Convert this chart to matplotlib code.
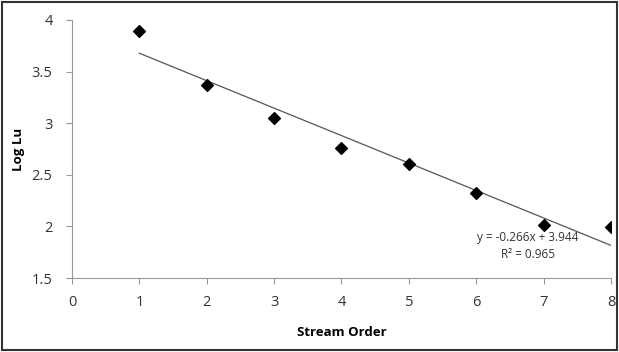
import matplotlib.pyplot as plt
from matplotlib.patches import Rectangle
import numpy as np

plt.rcParams['font.family'] = ['Open Sans', 'DejaVu Sans']

# stream order vs log of mean stream length
order = [1, 2, 3, 4, 5, 6, 7, 8]
log_lu = [3.89, 3.37, 3.05, 2.76, 2.60, 2.32, 2.01, 1.99]

# trendline as printed on the chart
slope = -0.266
intercept = 3.944
r2 = 0.965

fig = plt.figure(figsize=(6.19, 3.52), dpi=100)
ax = fig.add_axes([0.1163, 0.2102, 0.8707, 0.7330])

ax.scatter(order, log_lu, marker='D', s=36, color='black', zorder=3)

xs = np.array([order[0], order[-1]])
ax.plot(xs, slope * xs + intercept, color='#555555', lw=0.9, zorder=2)

ax.text(6.77, 1.893, 'y = -0.266x + 3.944', ha='center', va='center', fontsize=8.5, color='#333333')
ax.text(6.77, 1.728, 'R² = 0.965', ha='center', va='center', fontsize=8.5, color='#333333')

ax.set_xlim(0, 8)
ax.set_ylim(1.5, 4)
ax.set_xticks(range(0, 9))
ax.set_yticks([1.5, 2, 2.5, 3, 3.5, 4])
ax.set_yticklabels(['1.5', '2', '2.5', '3', '3.5', '4'])

for s in ['top', 'right']:
    ax.spines[s].set_visible(False)
for s in ['left', 'bottom']:
    ax.spines[s].set_color('#999999')
    ax.spines[s].set_linewidth(0.8)
ax.tick_params(direction='out', color='#999999', length=4, labelsize=10.5, labelcolor='#333333', pad=8)
ax.tick_params(axis='y', pad=10)

ax.set_xlabel('Stream Order', fontsize=9.5, fontweight='bold', labelpad=12)
ax.set_ylabel('Log Lu', fontsize=9.5, fontweight='bold', labelpad=5)

fig.patches.append(Rectangle((0.004, 0.006), 0.992, 0.988, transform=fig.transFigure,
                             fill=False, edgecolor='#333333', lw=1.5))

fig.savefig('out.png', dpi=100)
